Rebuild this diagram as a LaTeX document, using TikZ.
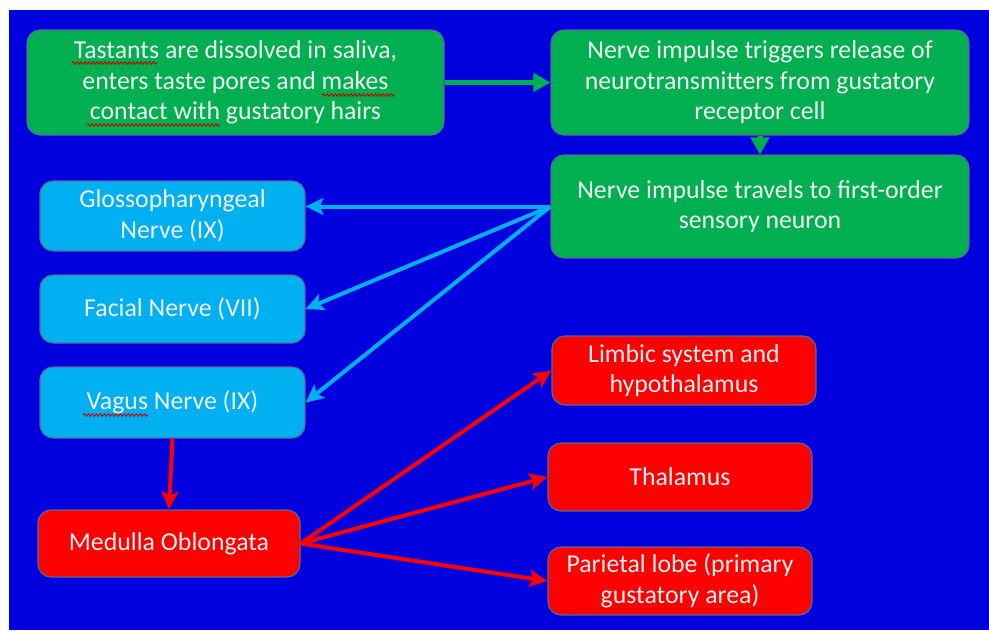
\documentclass[tikz,border=0pt]{standalone}
\usepackage{fontspec}
\setmainfont{Carlito}
\usetikzlibrary{arrows.meta,decorations.pathmorphing}
\definecolor{bg}{RGB}{0,0,222}
\definecolor{grn}{RGB}{0,176,80}
\definecolor{lblue}{RGB}{0,176,240}
\definecolor{rd}{RGB}{255,0,0}
\definecolor{edge}{RGB}{90,105,150}
\definecolor{txt}{RGB}{242,242,242}
\begin{document}
\begin{tikzpicture}[x=1pt,y=-1pt,
  box/.style={rectangle, rounded corners=13pt, draw=edge, line width=1.2pt,
    inner sep=0pt, align=center, text=txt,
    font=\fontsize{25.8}{30.5}\selectfont},
  gbox/.style={box, fill=grn},
  bbox/.style={box, fill=lblue},
  rbox/.style={box, fill=rd},
  garrow/.style={draw=grn, line width=5pt, -{Triangle[length=17pt,width=18pt]}},
  barrow/.style={draw=lblue, line width=4pt, -{Stealth[length=18pt,width=17pt,inset=4pt]}},
  rarrow/.style={draw=rd, line width=4pt, -{Stealth[length=18pt,width=17pt,inset=4pt]}},
  squig/.style={draw=rd!80!black, line width=0.9pt, decorate,
    decoration={snake, amplitude=1.2pt, segment length=4pt}}
]
\useasboundingbox (0,0) rectangle (989,630);
\fill[bg] (9,10) rectangle (989,630);

\node[gbox, minimum width=417pt, minimum height=105pt] (a) at (235.5,82.5)
  {Tastants are dissolved in saliva,\\ enters taste pores and makes\\ contact with gustatory hairs};
\node[gbox, minimum width=418pt, minimum height=105pt] (b) at (760,82.5)
  {Nerve impulse triggers release of\\ neurotransmitters from gustatory\\ receptor cell};
\node[gbox, minimum width=418pt, minimum height=103pt] (c) at (760,206.5)
  {Nerve impulse travels to first-order\\ sensory neuron};

\node[bbox, minimum width=265pt, minimum height=70pt] (g) at (172.5,216)
  {Glossopharyngeal\\ Nerve (IX)};
\node[bbox, minimum width=265pt, minimum height=68pt] (f) at (172.5,309)
  {Facial Nerve (VII)};
\node[bbox, minimum width=265pt, minimum height=71pt] (v) at (172.5,402.5)
  {Vagus Nerve (IX)};

\node[rbox, minimum width=262pt, minimum height=67pt] (m) at (169,543.5)
  {Medulla Oblongata};
\node[rbox, minimum width=264pt, minimum height=69pt] (l) at (684,370.5)
  {Limbic system and\\ hypothalamus};
\node[rbox, minimum width=264pt, minimum height=68pt] (t) at (680,477)
  {Thalamus};
\node[rbox, minimum width=264pt, minimum height=68pt] (p) at (680,581)
  {Parietal lobe (primary\\ gustatory area)};

\draw[garrow] (a.east) -- (b.west);
\draw[garrow] (b.south) -- (c.north);

\draw[barrow] (c.west) -- (g.east |- c.west);
\draw[barrow] (c.west) -- (f.east);
\draw[barrow] (c.west) -- (v.east);

\draw[rarrow] (v.south) -- (m.north);
\draw[rarrow] (m.east) -- (l.west);
\draw[rarrow] (m.east) -- (t.west);
\draw[rarrow] (m.east) -- (p.west);

% spelling squiggles
\coordinate (s1a) at (72,63);  \coordinate (s1b) at (158,63);
\coordinate (s2a) at (322,95); \coordinate (s2b) at (395,95);
\coordinate (s3a) at (87,125); \coordinate (s3b) at (220,125);
\coordinate (s4a) at (83,415); \coordinate (s4b) at (148,415);
\draw[squig] (s1a) -- (s1b);
\draw[squig] (s2a) -- (s2b);
\draw[squig] (s3a) -- (s3b);
\draw[squig] (s4a) -- (s4b);
\end{tikzpicture}
\end{document}
